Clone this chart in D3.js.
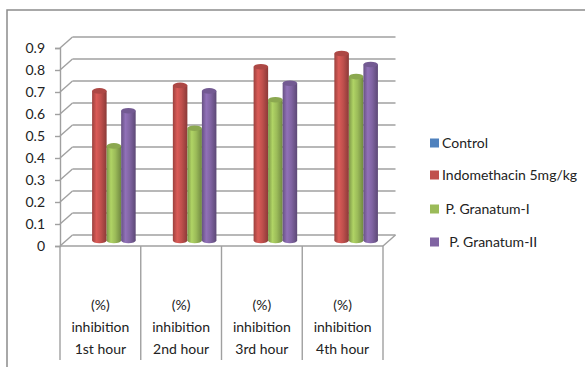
<!DOCTYPE html>
<html>
<head>
<meta charset="utf-8">
<script src="https://cdn.jsdelivr.net/npm/d3@7"></script>
<style>
  body { margin: 0; background: #fff; }
  svg { display: block; }
</style>
</head>
<body>
<div id="container"></div>
<script>
const categories = ["1st hour", "2nd hour", "3rd hour", "4th hour"];
const seriesNames = ["Control", "Indomethacin 5mg/kg", "P. Granatum-I", "P. Granatum-II"];
const legendLabels = ["Control", "Indomethacin 5mg/kg", " P. Granatum-I", "  P. Granatum-II"];
const control = [0, 0, 0, 0];
const indomethacin = [0.68, 0.705, 0.79, 0.85];
const granatumI = [0.43, 0.51, 0.64, 0.745];
const granatumII = [0.59, 0.68, 0.715, 0.80];
const yTicks = [0, 0.1, 0.2, 0.3, 0.4, 0.5, 0.6, 0.7, 0.8, 0.9];
const colors = ["#4F81BD", "#C0504D", "#9BBB59", "#8064A2"];

const allSeries = [control, indomethacin, granatumI, granatumII];

const width = 585, height = 367;
const depthX = 12.5, depthY = -11;   // 3D back-wall offset
const gridColor = "#a0a0a0";
const font = "Lato, 'Open Sans', sans-serif";

const svg = d3.select("#container")
  .append("svg")
  .attr("width", width)
  .attr("height", height)
  .style("font-family", font);

// gradients for cylinders
const defs = svg.append("defs");
colors.forEach((c, i) => {
  const g = defs.append("linearGradient")
    .attr("id", "grad" + i)
    .attr("x1", "0%").attr("x2", "100%").attr("y1", "0%").attr("y2", "0%");
  const base = d3.color(c);
  g.append("stop").attr("offset", "0%").attr("stop-color", base.darker(0.6));
  g.append("stop").attr("offset", "30%").attr("stop-color", base.brighter(0.35));
  g.append("stop").attr("offset", "60%").attr("stop-color", base);
  g.append("stop").attr("offset", "100%").attr("stop-color", base.darker(0.9));
});

// outer frame
svg.append("path")
  .attr("d", `M7,${height} L7,10 L${width},10`)
  .attr("fill", "none")
  .attr("stroke", "#8c8c8c")
  .attr("stroke-width", 1.5);

const x = d3.scaleBand()
  .domain(categories)
  .range([60, 383])
  .padding(0);

const y = d3.scaleLinear()
  .domain([0, 0.9])
  .range([246, 48]);

const inner = d3.scaleBand()
  .domain(seriesNames)
  .range([0, x.bandwidth()])
  .paddingInner(0)
  .paddingOuter(0.78);

const grid = svg.append("g")
  .attr("stroke", gridColor)
  .attr("stroke-width", 1.4)
  .attr("fill", "none");

// back wall gridlines and side diagonals
yTicks.forEach(t => {
  grid.append("line")
    .attr("x1", 60 + depthX).attr("x2", 383 + depthX)
    .attr("y1", y(t) + depthY).attr("y2", y(t) + depthY);
  grid.append("line")
    .attr("x1", 60).attr("x2", 60 + depthX)
    .attr("y1", y(t)).attr("y2", y(t) + depthY);
});

// floor front edge and right diagonal
grid.append("line")
  .attr("x1", 60).attr("x2", 383)
  .attr("y1", y(0)).attr("y2", y(0));
grid.append("line")
  .attr("x1", 383).attr("x2", 383 + depthX)
  .attr("y1", y(0)).attr("y2", y(0) + depthY);

// category dividers below the floor
const dividers = categories.map(c => x(c)).concat([x.range()[1]]);
dividers.forEach(d => {
  grid.append("line")
    .attr("x1", d).attr("x2", d)
    .attr("y1", y(0)).attr("y2", 360);
});

// y axis
const yAxis = svg.append("g")
  .attr("transform", "translate(60,0)")
  .call(d3.axisLeft(y)
    .tickValues(yTicks)
    .tickSize(5)
    .tickPadding(10)
    .tickFormat(d => d === 0 ? "0" : d.toFixed(1)));
yAxis.select(".domain").attr("stroke", gridColor).attr("stroke-width", 1.4);
yAxis.selectAll(".tick line").attr("stroke", gridColor).attr("stroke-width", 1.4);
yAxis.selectAll(".tick text")
  .attr("fill", "#222")
  .style("font-family", font)
  .style("font-size", "14px");

// cylinders
const ry = 2.8;
const bars = svg.append("g")
  .attr("transform", `translate(${depthX / 2},${depthY / 2})`);

categories.forEach((cat, ci) => {
  seriesNames.forEach((s, si) => {
    const v = allSeries[si][ci];
    if (v <= 0) return;
    const bx = x(cat) + inner(s);
    const bw = inner.bandwidth();
    const top = y(v), base = y(0);
    const g = bars.append("g");
    g.append("ellipse")
      .attr("cx", bx + bw / 2).attr("cy", base)
      .attr("rx", bw / 2).attr("ry", ry)
      .attr("fill", `url(#grad${si})`);
    g.append("rect")
      .attr("x", bx).attr("y", top)
      .attr("width", bw).attr("height", base - top)
      .attr("fill", `url(#grad${si})`);
    g.append("ellipse")
      .attr("cx", bx + bw / 2).attr("cy", top)
      .attr("rx", bw / 2).attr("ry", ry)
      .attr("fill", d3.color(colors[si]).darker(0.3));
  });
});

// category labels
const labelLines = ["(%)", "inhibition"];
categories.forEach(cat => {
  const cx = x(cat) + x.bandwidth() / 2;
  const lines = labelLines.concat([cat]);
  lines.forEach((l, i) => {
    svg.append("text")
      .attr("x", cx)
      .attr("y", 310 + i * 22)
      .attr("text-anchor", "middle")
      .attr("fill", "#222")
      .style("font-size", "14px")
      .text(l);
  });
});

// legend
const legendY = [143, 175, 209, 242];
const legend = svg.append("g");
seriesNames.forEach((s, i) => {
  legend.append("rect")
    .attr("x", 430).attr("y", legendY[i] - 4.5)
    .attr("width", 9).attr("height", 9)
    .attr("fill", colors[i]);
  legend.append("text")
    .attr("x", 442)
    .attr("y", legendY[i] + 5)
    .attr("fill", "#222")
    .style("font-size", "14px")
    .style("white-space", "pre")
    .attr("xml:space", "preserve")
    .text(legendLabels[i]);
});
</script>
</body>
</html>
